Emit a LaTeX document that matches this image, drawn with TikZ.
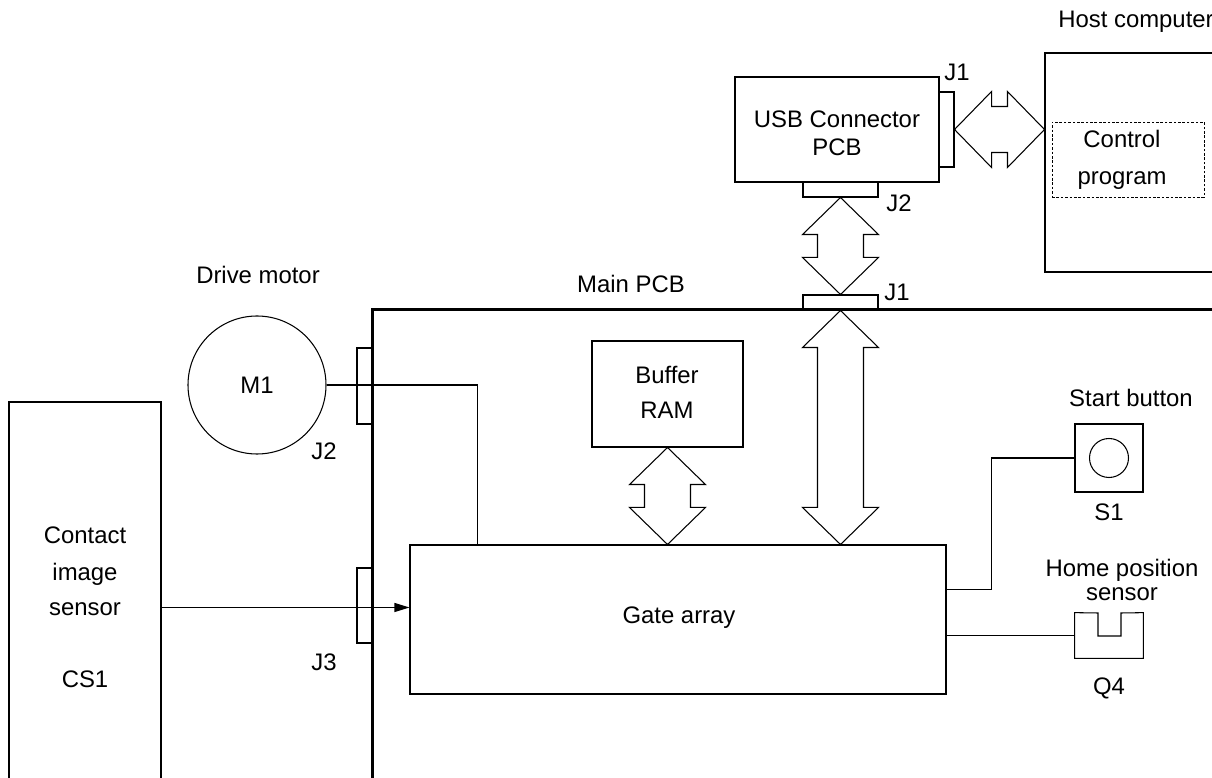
\documentclass[tikz,border=0pt]{standalone}
\usepackage{fontspec}
\setmainfont{Liberation Sans}
\usetikzlibrary{arrows.meta, positioning, fit, calc}

\tikzset{
  blk/.style={draw, line width=0.6pt, inner sep=0pt, align=center},
  jack/.style={draw, line width=0.6pt, inner sep=0pt},
  txt/.style={inner sep=1pt, align=center},
  bus/.style={draw, line width=0.6pt, fill=white},
  wire/.style={line width=0.6pt},
}

% hollow bus arrows, tip to tip
\newcommand{\busV}[2]{%
  \draw[bus] let \p1=(#1), \p2=(#2) in
    (\x1,\y1) -- (\x1+7.6mm,\y1-7.4mm) -- (\x1+4.6mm,\y1-7.4mm)
    -- (\x1+4.6mm,\y2+7.4mm) -- (\x1+7.6mm,\y2+7.4mm) -- (\x1,\y2)
    -- (\x1-7.6mm,\y2+7.4mm) -- (\x1-4.6mm,\y2+7.4mm)
    -- (\x1-4.6mm,\y1-7.4mm) -- (\x1-7.6mm,\y1-7.4mm) -- cycle;}
\newcommand{\busH}[2]{%
  \draw[bus] let \p1=(#1), \p2=(#2) in
    (\x1,\y1) -- (\x1+7.4mm,\y1+7.6mm) -- (\x1+7.4mm,\y1+4.6mm)
    -- (\x2-7.4mm,\y1+4.6mm) -- (\x2-7.4mm,\y1+7.6mm) -- (\x2,\y1)
    -- (\x2-7.4mm,\y1-7.6mm) -- (\x2-7.4mm,\y1-4.6mm)
    -- (\x1+7.4mm,\y1-4.6mm) -- (\x1+7.4mm,\y1-7.6mm) -- cycle;}

\begin{document}
\begin{tikzpicture}[x=0.2mm, y=-0.2mm, font=\fontsize{13.6}{15}\selectfont]
        \useasboundingbox (0,0) rectangle (1212,778);
        \clip (0,0) rectangle (1212,778);

        % Host computer
        \node[blk, fit={(1045,53) (1260,272)}] (host) {};
        \node[blk, line width=0.5pt, dash pattern=on 1.5pt off 1pt,
              fit={(1052,122) (1204,197)}] (ctrl) {};
        \node[txt] (tctrl) at (1122,160) {Control\\[6pt]program};

        % USB connector PCB
        \node[blk, fit={(735,77) (939,182)}] (usb) {};
        \node[txt] (tusb) at (837,133) {USB Connector\\[1pt]PCB};
        \node[jack, fit={(939,92) (954,167)}] (usbjone) {};
        \node[jack, fit={(803,182) (878,197)}] (usbjtwo) {};

        % Main PCB
        \node[inner sep=0pt, fit={(373,310) (1260,820)}] (mainpcb) {};
        \draw[line width=1.8pt] (mainpcb.south west) |- (mainpcb.north east);
        \node[jack, fit={(803,295) (878,310)}] (mainjone) {};
        \node[jack, fit={(357,348) (373,424)}] (mainjtwo) {};
        \node[jack, fit={(357,568) (373,643)}] (mainjthree) {};
        \node[blk, fit={(592,341) (743,447)}] (ram) {};
        \node[txt] (tram) at (667,392) {Buffer\\[5pt]RAM};
        \node[blk, fit={(410,545) (946,694)}] (ga) {};
        \node[txt] (tga) at (679,618) {Gate array};

        % parts outside
        \node[blk, fit={(9,402) (161,813)}] (cis) {};
        \node[txt] (tcis) at (85,607) {Contact\\[6pt]image\\[5pt]sensor\\[26pt]CS1};
        \node[blk, circle, minimum size=27.6mm] (mone) at (257,385) {M1};
        \node[blk, fit={(1075,424) (1143,492)}] (sone) {};
        \node[blk, circle, minimum size=7.8mm] (sbtn) at (sone.center) {};
        \node[inner sep=0pt, fit={(1075,613) (1143,658)}] (qfour) {};
        \draw[wire] (qfour.north west) -- (1098,613) |- (1121,636) -- (1121,613)
              -- (qfour.north east) |- (qfour.south west) -- cycle;

        % labels
        \foreach \n/\x/\y/\t in
          {lhost/1136/22/Host computer, ldrive/258/275/Drive motor,
           lmain/631/284/Main PCB, lstart/1131/398/Start button,
           lsone/1109/512/S1, lqfour/1109/688/Q4,
           lusbjone/957/72/J1, lusbjtwo/899/203/J2, lmainjone/897/292/J1,
           lmainjtwo/324/451/J2, lmainjthree/324/662/J3}
        {
          \node[txt] (\n) at (\x,\y) {\t};
        }
        \node[txt] (lhome) at (1122,580) {Home position\\[-1pt]sensor};

        % buses
        \busH{usbjone.east}{usbjone.east -| host.west}
        \busV{usbjtwo.south}{mainjone.north}
        \busV{mainjone.south}{mainjone.south |- ga.north}
        \busV{ram.south}{ram.south |- ga.north}

        % wires
        \draw[wire] (mone.east) -| ($(ga.north west)+(68,0)$);
        \draw[wire, -{Triangle[length=3mm, width=1.8mm]}]
              (cis.east) -- (cis.east -| ga.west);
        \draw[wire] ($(ga.north east)!.3!(ga.south east)$) -- ++(45,0) |- (sone.west);
        \draw[wire] (qfour.west) -- (qfour.west -| ga.east);
      \end{tikzpicture}
\end{document}
